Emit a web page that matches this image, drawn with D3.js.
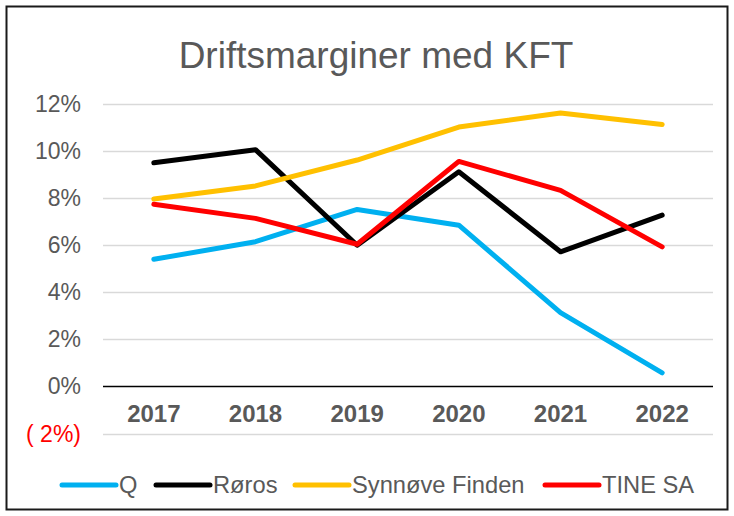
<!DOCTYPE html>
<html>
<head>
<meta charset="utf-8">
<script src="https://cdn.jsdelivr.net/npm/d3@7"></script>
<style>
  body { margin: 0; background: #fff; }
  text { font-family: "Liberation Sans", Arial, sans-serif; }
</style>
</head>
<body>
<div id="chart"></div>
<script>
var w = 734;
var h = 516;

// data
var years = ["2017", "2018", "2019", "2020", "2021", "2022"];
var seriesNames = ["Q", "Røros", "Synnøve Finden", "TINE SA"];
var seriesColors = ["#00b0f0", "#000000", "#ffc000", "#ff0000"];
var qValues = [5.4, 6.15, 7.52, 6.85, 3.14, 0.58];
var rorosValues = [9.5, 10.06, 6.0, 9.12, 5.72, 7.28];
var synnoveValues = [7.96, 8.52, 9.62, 11.02, 11.62, 11.13];
var tineValues = [7.74, 7.14, 6.04, 9.56, 8.33, 5.93];
var yTicks = [-2, 0, 2, 4, 6, 8, 10, 12];

var allValues = [qValues, rorosValues, synnoveValues, tineValues];

var svg = d3.select("#chart")
  .append("svg")
  .attr("width", w)
  .attr("height", h);

// outer frame
svg.append("rect")
  .attr("x", 6.5).attr("y", 6.5)
  .attr("width", 721).attr("height", 503)
  .attr("fill", "white")
  .attr("stroke", "#1a1a1a")
  .attr("stroke-width", 2);

// title
svg.append("text")
  .attr("x", 376)
  .attr("y", 68)
  .attr("text-anchor", "middle")
  .attr("font-size", "37px")
  .attr("fill", "#595959")
  .text("Driftsmarginer med KFT");

var x = d3.scaleBand()
  .domain(years)
  .range([103, 713]);

var y = d3.scaleLinear()
  .domain([-2, 12])
  .range([433.5, 104]);

// gridlines
svg.append("g")
  .selectAll("line")
  .data(yTicks.filter(function(d) { return d !== 0; }))
  .enter()
  .append("line")
  .attr("x1", x.range()[0])
  .attr("x2", x.range()[1])
  .attr("y1", function(d) { return Math.round(y(d)) + 0.5; })
  .attr("y2", function(d) { return Math.round(y(d)) + 0.5; })
  .attr("stroke", "#d9d9d9")
  .attr("stroke-width", 1.3);

// y tick labels
svg.append("g")
  .selectAll("text")
  .data(yTicks)
  .enter()
  .append("text")
  .attr("x", 81)
  .attr("y", function(d) { return y(d); })
  .attr("dy", "0.35em")
  .attr("text-anchor", "end")
  .attr("font-size", "23px")
  .attr("fill", function(d) { return d < 0 ? "#ff0000" : "#595959"; })
  .text(function(d) { return d < 0 ? "( " + Math.abs(d) + "%)" : d + "%"; });

// zero line
svg.append("line")
  .attr("x1", x.range()[0])
  .attr("x2", x.range()[1])
  .attr("y1", Math.round(y(0)) + 0.5)
  .attr("y2", Math.round(y(0)) + 0.5)
  .attr("stroke", "#000")
  .attr("stroke-width", 1.5);

// category labels
svg.append("g")
  .selectAll("text")
  .data(years)
  .enter()
  .append("text")
  .attr("x", function(d) { return x(d) + x.bandwidth() / 2; })
  .attr("y", 414)
  .attr("dy", "0.35em")
  .attr("text-anchor", "middle")
  .attr("font-size", "24px")
  .attr("font-weight", "bold")
  .attr("fill", "#595959")
  .text(function(d) { return d; });

var line = d3.line()
  .x(function(d, i) { return x(years[i]) + x.bandwidth() / 2; })
  .y(function(d) { return y(d); });

svg.append("g")
  .selectAll("path")
  .data(allValues)
  .enter()
  .append("path")
  .attr("d", line)
  .attr("fill", "none")
  .attr("stroke", function(d, i) { return seriesColors[i]; })
  .attr("stroke-width", 5)
  .attr("stroke-linecap", "round")
  .attr("stroke-linejoin", "round");

// legend
var legendX = [61, 155, 294, 544];
var legend = svg.append("g")
  .selectAll("g")
  .data(seriesNames)
  .enter()
  .append("g")
  .attr("transform", function(d, i) { return "translate(" + legendX[i] + ",485)"; });

legend.append("line")
  .attr("x1", 1).attr("x2", 55)
  .attr("y1", 0).attr("y2", 0)
  .attr("stroke", function(d, i) { return seriesColors[i]; })
  .attr("stroke-width", 5)
  .attr("stroke-linecap", "round");

legend.append("text")
  .attr("x", 58)
  .attr("y", 0)
  .attr("dy", "0.35em")
  .attr("font-size", "23.7px")
  .attr("fill", "#595959")
  .text(function(d) { return d; });
</script>
</body>
</html>
